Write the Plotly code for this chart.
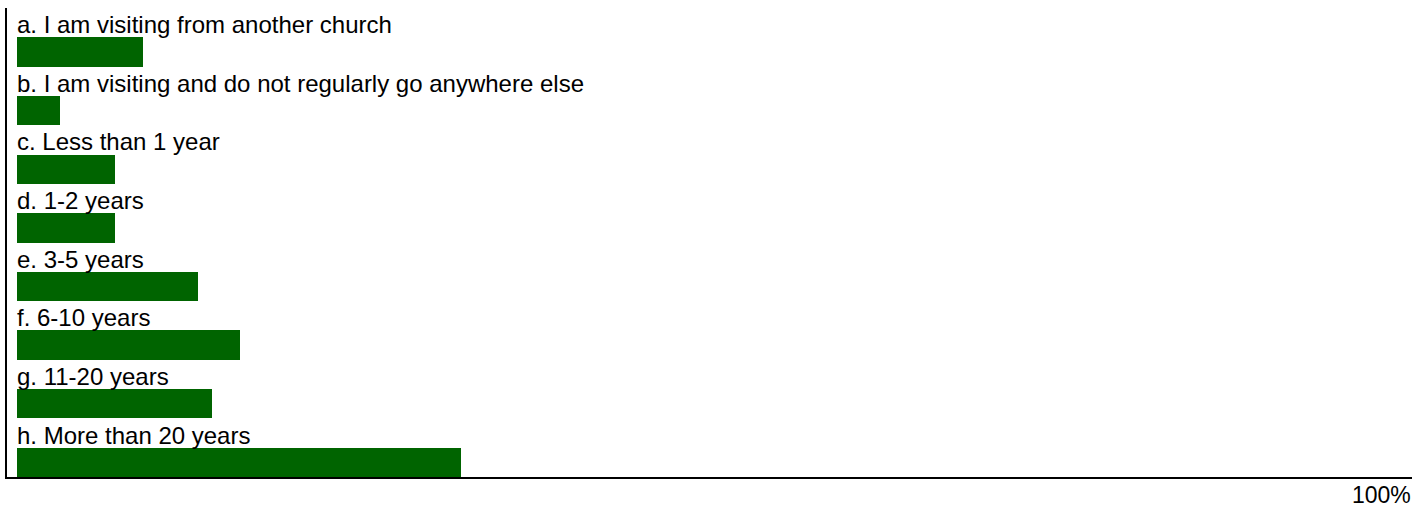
import plotly.graph_objects as go

categories = [
    "a. I am visiting from another church",
    "b. I am visiting and do not regularly go anywhere else",
    "c. Less than 1 year",
    "d. 1-2 years",
    "e. 3-5 years",
    "f. 6-10 years",
    "g. 11-20 years",
    "h. More than 20 years",
]
values = [9.0, 3.1, 7.0, 7.0, 13.0, 16.0, 14.0, 31.8]
axis_end_label = "100%"

n = len(categories)
FONT = "Arial, Liberation Sans, sans-serif"

# row i occupies band [n-1-i, n-i]; bar in bottom half, label in top half
bar_y = [n - 1 - i + 0.25 for i in range(n)]
label_y = [n - 1 - i + 0.75 for i in range(n)]

fig = go.Figure()
fig.add_trace(go.Bar(
    x=values, y=bar_y, orientation="h", width=0.5,
    marker=dict(color="#006400", line=dict(width=0)),
    hoverinfo="x",
))

for cat, ly in zip(categories, label_y):
    fig.add_annotation(x=0, y=ly, xref="x", yref="y", text=cat, showarrow=False,
                       xanchor="left", yanchor="middle", xshift=-2, yshift=-2,
                       font=dict(family=FONT, size=24, color="black"))

fig.add_annotation(x=100, y=0, xref="x", yref="paper", text=axis_end_label,
                   showarrow=False, xanchor="right", yanchor="top", yshift=-3, xshift=1,
                   font=dict(family=FONT, size=23, color="black"))

fig.update_layout(
    width=1415, height=524,
    margin=dict(l=7, r=3, t=8, b=47),
    paper_bgcolor="white", plot_bgcolor="white",
    showlegend=False,
    bargap=0,
    xaxis=dict(range=[-0.717, 100], showgrid=False, zeroline=False, showticklabels=False,
               ticks="", showline=True, linecolor="black", linewidth=1.5, fixedrange=True),
    yaxis=dict(range=[0, n], showgrid=False, zeroline=False, showticklabels=False,
               ticks="", showline=True, linecolor="black", linewidth=1.5, fixedrange=True),
)

fig.write_html("out.html", config={"displayModeBar": False},
               post_script="document.body.style.margin='0px';document.body.style.overflow='hidden';")
